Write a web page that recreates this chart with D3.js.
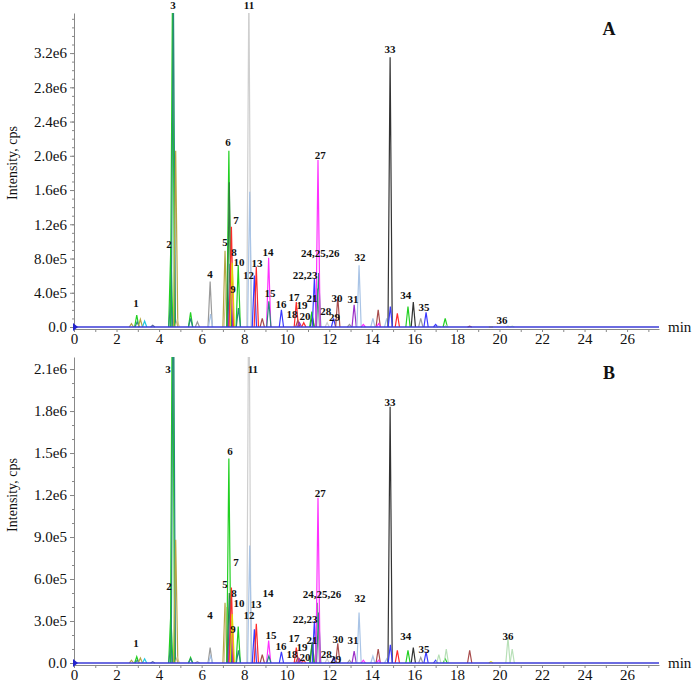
<!DOCTYPE html>
<html>
<head>
<meta charset="utf-8">
<script src="https://cdn.jsdelivr.net/npm/d3@7/dist/d3.min.js"></script>
<style>
body { margin: 0; background: #fff; }
svg text { font-family: "Liberation Serif", "Times New Roman", serif; fill: #111; }
.tick text { font-size: 15px; }
.peak-label { font-size: 11px; font-weight: bold; }
</style>
</head>
<body>
<div class="chart"></div>
<script>
// Retention time (min) of each peak, its trace and intensity (x1e6) in run A and run B
var peakTimes = [2.70, 2.95, 2.97, 3.12, 3.32, 3.70, 4.55, 4.55, 4.63, 4.67, 4.78, 4.85, 5.48, 5.48, 5.80,
  6.40, 6.42, 7.10, 7.15, 7.28, 7.30, 7.33, 7.36, 7.40, 7.44, 7.72, 7.73, 8.22, 8.26, 8.48, 8.57, 8.85,
  9.15, 9.16, 9.75, 10.45, 10.52, 10.60, 10.80, 11.18, 11.20, 11.30, 11.44, 11.50, 11.47, 11.90, 12.20,
  12.40, 12.95, 13.17, 13.40, 13.60, 14.05, 14.30, 14.32, 14.70, 14.86, 14.87, 15.20, 15.70, 15.95,
  16.30, 16.55, 17.00, 17.15, 17.45, 17.50, 18.60, 19.60, 20.40, 20.60];
var peakTrace = ["olive", "green", "teal", "olive", "cyan", "slate", "green", "teal", "green", "teal", "olive", "tan", "green", "teal", "gray",
  "gray", "lightblue", "olive", "tan", "green", "darkgreen", "teal", "purple", "red", "yellow", "green", "teal", "lightgray", "lightblue", "blue", "red", "brown",
  "magenta", "teal", "blue", "red", "brown", "purple", "red", "green", "darkgreen", "blue", "grayteal", "teal", "magenta", "lightgray", "blue",
  "brown", "gray", "purple", "lightblue", "magenta", "lightblue", "brown", "magenta", "lightblue", "black", "blue", "red", "green", "black",
  "gray", "blue", "blue", "palegreen", "green", "palegreen", "brown", "yellow", "palegreen", "palegreen"];
var peakHeightA = [0.04, 0.14, 0.06, 0.09, 0.07, 0.02, 0.93, 0.32, 4.0, 4.0, 2.06, 0.08, 0.17, 0.10, 0.06,
  0.53, 0.15, 0.89, 0.50, 2.06, 1.69, 0.74, 0.49, 1.17, 0.75, 0.72, 0.22, 4.0, 1.58, 0.60, 0.70, 0.10,
  0.81, 0.30, 0.20, 0.29, 0.08, 0.05, 0.05, 0.18, 0.12, 0.57, 0.45, 0.63, 1.95, 0.05, 0.10,
  0.35, 0.03, 0.26, 0.72, 0.03, 0.10, 0.20, 0.04, 0.10, 3.15, 0.24, 0.16, 0.24, 0.29,
  0.10, 0.17, 0.03, 0.01, 0.10, 0.02, 0.01, 0.00, 0.01, 0.01];
var peakHeightB = [0.02, 0.045, 0.02, 0.035, 0.03, 0.01, 0.35, 0.13, 3.0, 3.0, 0.88, 0.04, 0.04, 0.03, 0.01,
  0.11, 0.05, 0.43, 0.40, 1.46, 0.50, 0.46, 0.30, 0.54, 0.35, 0.26, 0.09, 3.0, 0.84, 0.24, 0.28, 0.06,
  0.16, 0.05, 0.08, 0.11, 0.04, 0.03, 0.02, 0.13, 0.15, 0.30, 0.43, 0.36, 1.18, 0.03, 0.04,
  0.14, 0.02, 0.085, 0.36, 0.02, 0.05, 0.10, 0.02, 0.03, 1.83, 0.13, 0.09, 0.09, 0.11,
  0.04, 0.08, 0.02, 0.06, 0.03, 0.10, 0.09, 0.01, 0.18, 0.10];

// Compound labels, placed at (time, intensity x1e6)
var labelText = ["1", "2", "3", "4", "5", "6", "7", "8", "9", "10", "11", "12", "13", "14", "15", "16", "17", "18",
  "19", "20", "21", "22,23", "24,25,26", "27", "28", "29", "30", "31", "32", "33", "34", "35", "36"];
var labelTimeA = [2.91, 4.47, 4.65, 6.39, 7.10, 7.24, 7.62, 7.52, 7.47, 7.76, 8.23, 8.20, 8.60, 9.12, 9.21, 9.73, 10.34, 10.25,
  10.72, 10.86, 11.19, 10.86, 11.57, 11.57, 11.83, 12.25, 12.36, 13.12, 13.45, 14.86, 15.60, 16.45, 20.12];
var labelValA = [0.28, 0.97, 3.76, 0.62, 0.99, 2.16, 1.25, 0.88, 0.44, 0.76, 3.76, 0.61, 0.75, 0.88, 0.40, 0.27, 0.35, 0.15,
  0.25, 0.13, 0.34, 0.60, 0.86, 2.01, 0.18, 0.11, 0.34, 0.32, 0.82, 3.25, 0.37, 0.23, 0.08];
var labelTimeB = [2.91, 4.47, 4.42, 6.39, 7.10, 7.33, 7.62, 7.52, 7.47, 7.76, 8.41, 8.23, 8.56, 9.12, 9.26, 9.73, 10.34, 10.25,
  10.72, 10.86, 11.19, 10.86, 11.66, 11.57, 11.86, 12.30, 12.41, 13.12, 13.45, 14.86, 15.60, 16.45, 20.40];
var labelValB = [0.14, 0.55, 2.10, 0.34, 0.56, 1.51, 0.72, 0.50, 0.24, 0.43, 2.10, 0.34, 0.42, 0.50, 0.20, 0.12, 0.18, 0.06,
  0.11, 0.04, 0.16, 0.31, 0.49, 1.21, 0.065, 0.03, 0.17, 0.16, 0.46, 1.86, 0.19, 0.10, 0.19];

// Axis ticks
var yTicksA = [0, 0.4e6, 0.8e6, 1.2e6, 1.6e6, 2.0e6, 2.4e6, 2.8e6, 3.2e6];
var yTickLabelsA = ["0.0", "4.0e5", "8.0e5", "1.2e6", "1.6e6", "2.0e6", "2.4e6", "2.8e6", "3.2e6"];
var yTicksB = [0, 0.3e6, 0.6e6, 0.9e6, 1.2e6, 1.5e6, 1.8e6, 2.1e6];
var yTickLabelsB = ["0.0", "3.0e5", "6.0e5", "9.0e5", "1.2e6", "1.5e6", "1.8e6", "2.1e6"];
var xTicks = [0, 2, 4, 6, 8, 10, 12, 14, 16, 18, 20, 22, 24, 26];

var traceColors = {
  olive: "#b5a642", tan: "#d2c28c", green: "#22d022", darkgreen: "#2f7f3f", teal: "#2a8a7a",
  cyan: "#22c8e0", slate: "#5a6a9a", gray: "#9a9a9a", lightgray: "#cfcfcf", lightblue: "#a9c4e6",
  purple: "#9a2fc8", red: "#ff2a2a", yellow: "#e0d800", blue: "#3a3aff", brown: "#a84c4c",
  magenta: "#ff30ff", grayteal: "#7a9a90", black: "#333333", palegreen: "#b8e0b8"
};

var svgWidth = 697, svgHeight = 684;
var svg = d3.select(".chart").append("svg")
  .attr("width", svgWidth)
  .attr("height", svgHeight);

var x = d3.scaleLinear().domain([0, 27.5]).range([74, 659]);

var halfWidth = 0.1;
var peakLine = d3.line();

function drawPanel(p) {
  var y = d3.scaleLinear().domain([0, p.yMax]).range([p.base, p.top]);
  var g = svg.append("g");

  // x axis, slightly below baseline
  var xAxis = d3.axisBottom(x)
    .tickValues(d3.range(0, 28, 1))
    .tickSize(3)
    .tickSizeOuter(0)
    .tickFormat(d => xTicks.indexOf(d) >= 0 ? d : "");
  var gx = g.append("g")
    .attr("transform", `translate(0, ${p.base + 2})`)
    .call(xAxis);
  gx.select(".domain").attr("stroke", "#888");
  gx.selectAll(".tick line").attr("stroke", "#888");
  gx.selectAll(".tick text").attr("y", 4).attr("dy", "0.71em");

  // y axis with minor ticks
  var gyMinor = g.append("g")
    .attr("transform", "translate(74, 0)")
    .call(d3.axisLeft(y).tickValues(d3.range(0, p.yMax, p.minor)).tickSize(2).tickFormat(""));
  gyMinor.select(".domain").remove();
  gyMinor.selectAll(".tick line").attr("stroke", "#888");

  var gy = g.append("g")
    .attr("transform", "translate(74, 0)")
    .call(d3.axisLeft(y).tickValues(p.ticks).tickSize(4).tickSizeOuter(0)
      .tickFormat((d, i) => p.tickLabels[i]));
  gy.select(".domain").attr("stroke", "#888");
  gy.selectAll(".tick line").attr("stroke", "#888");
  gy.selectAll(".tick text").attr("x", -7);

  // clip for off-scale peaks
  var clipId = "clip" + p.name;
  svg.append("clipPath").attr("id", clipId)
    .append("rect")
    .attr("x", 74).attr("y", p.top)
    .attr("width", 659 - 74).attr("height", p.base - p.top + 1);

  g.append("g")
    .attr("clip-path", `url(#${clipId})`)
    .selectAll("path")
    .data(peakTimes.map((t, i) => ({ t: t, h: p.heights[i] * 1e6, c: traceColors[peakTrace[i]] })))
    .enter()
    .append("path")
    .attr("d", d => peakLine([[x(d.t - halfWidth), y(0)], [x(d.t), y(d.h)], [x(d.t + halfWidth), y(0)]]))
    .attr("fill", "none")
    .attr("stroke", d => d.c)
    .attr("stroke-width", 1.2);

  // blue baseline + start marker
  g.append("line")
    .attr("x1", x(0)).attr("x2", x(27.5))
    .attr("y1", y(0)).attr("y2", y(0))
    .attr("stroke", "#3b3bd6")
    .attr("stroke-width", 1.5);
  g.append("path")
    .attr("d", `M${x(0) - 1},${y(0) - 4}L${x(0) + 4},${y(0)}L${x(0) - 1},${y(0) + 4}Z`)
    .attr("fill", "#2222cc");

  // peak labels
  g.append("g").selectAll("text")
    .data(labelText.map((s, i) => ({ s: s, t: p.labelTime[i], v: p.labelVal[i] * 1e6 })))
    .enter()
    .append("text")
    .attr("class", "peak-label")
    .attr("x", d => x(d.t))
    .attr("y", d => y(d.v))
    .attr("dy", "0.35em")
    .attr("text-anchor", "middle")
    .text(d => d.s);

  // axis titles
  g.append("text")
    .attr("transform", `translate(17, ${p.titleY}) rotate(-90)`)
    .attr("text-anchor", "middle")
    .style("font-size", "14px")
    .text("Intensity, cps");
  g.append("text")
    .attr("x", 668).attr("y", p.base + 5)
    .style("font-size", "15px")
    .text("min");
  g.append("text")
    .attr("x", 609).attr("y", p.top + 22)
    .attr("text-anchor", "middle")
    .style("font-size", "18px")
    .style("font-weight", "bold")
    .text(p.name);
}

drawPanel({
  name: "A", top: 13, base: 327, yMax: 3.668e6, minor: 1e5,
  ticks: yTicksA, tickLabels: yTickLabelsA,
  heights: peakHeightA, labelTime: labelTimeA, labelVal: labelValA, titleY: 163
});
drawPanel({
  name: "B", top: 357, base: 663, yMax: 2.186e6, minor: 1e5,
  ticks: yTicksB, tickLabels: yTickLabelsB,
  heights: peakHeightB, labelTime: labelTimeB, labelVal: labelValB, titleY: 495
});
</script>
</body>
</html>
